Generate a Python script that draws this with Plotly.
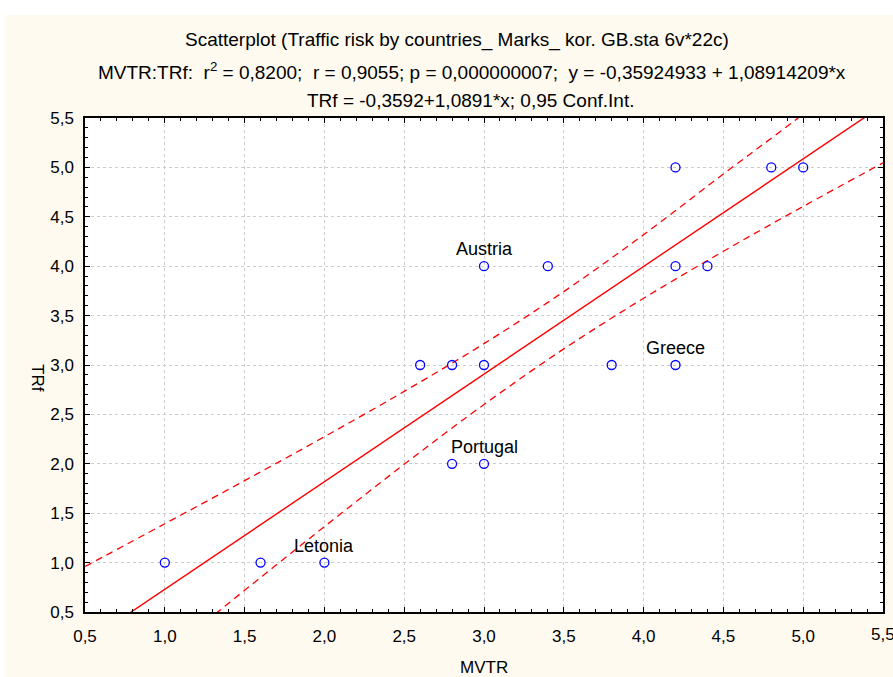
import plotly.graph_objects as go

# ---- data ----
mvtr = [1.0, 1.6, 2.0, 2.6, 2.8, 3.0, 2.8, 3.0, 3.0, 3.4, 3.8, 4.2, 4.2, 4.4, 4.2, 4.8, 5.0]
trf  = [1.0, 1.0, 1.0, 3.0, 3.0, 3.0, 2.0, 2.0, 4.0, 4.0, 3.0, 3.0, 4.0, 4.0, 5.0, 5.0, 5.0]

intercept = -0.35924933
slope = 1.08914209
line_x = [0.5, 5.5]

band_x     = [0.5, 1.0, 1.5, 2.0, 2.5, 3.0, 3.5, 4.0, 4.5, 5.0, 5.5]
band_upper = [0.960, 1.393, 1.829, 2.274, 2.733, 3.216, 3.743, 4.319, 4.933, 5.540, 6.180]
band_lower = [-0.590, 0.067, 0.719, 1.364, 1.995, 2.600, 3.163, 3.675, 4.151, 4.605, 5.046]

label_text = ["Austria", "Portugal", "Greece", "Letonia"]
label_x    = [3.0, 3.0, 4.2, 2.0]
label_y    = [4.0, 2.0, 3.0, 1.0]

tick_vals = [0.5, 1.0, 1.5, 2.0, 2.5, 3.0, 3.5, 4.0, 4.5, 5.0, 5.5]

title1 = "Scatterplot (Traffic risk by countries_ Marks_ kor. GB.sta 6v*22c)"
title2 = ("MVTR:TRf:\u00a0 r<sup>2</sup> = 0,8200;\u00a0 r = 0,9055; p = 0,000000007;"
          "\u00a0 y = -0,35924933 + 1,08914209*x")
title3 = "TRf = -0,3592+1,0891*x; 0,95 Conf.Int."

FONT = "Arial, Liberation Sans, sans-serif"
RED = "#ff0000"
BLUE = "#0000ff"

W, H = 893, 677
L, R, T, B = 85, 10, 118, 65
PW, PH = W - L - R, H - T - B

def px(xpix):
    return (xpix - L) / PW

def py(ypix):
    return (H - B - ypix) / PH

fig = go.Figure()

fig.add_trace(go.Scatter(
    x=band_x, y=band_upper, mode="lines", line_shape="spline",
    line=dict(color=RED, width=1.3, dash="7px,5px"), hoverinfo="skip"))
fig.add_trace(go.Scatter(
    x=band_x, y=band_lower, mode="lines", line_shape="spline",
    line=dict(color=RED, width=1.3, dash="7px,5px"), hoverinfo="skip"))
fig.add_trace(go.Scatter(
    x=line_x, y=[intercept + slope * v for v in line_x], mode="lines",
    line=dict(color=RED, width=1.4), hoverinfo="skip"))
fig.add_trace(go.Scatter(
    x=mvtr, y=trf, mode="markers",
    marker=dict(symbol="circle-open", size=9, color=BLUE, line=dict(width=1.3, color=BLUE))))

axis_common = dict(
    range=[0.5, 5.5], tickvals=tick_vals, tickformat=".1f",
    showline=True, linecolor="black", linewidth=1.5, mirror="allticks",
    ticks="inside", ticklen=5, tickwidth=1, tickcolor="black",
    showgrid=True, gridcolor="#cccccc", griddash="dot", gridwidth=1,
    zeroline=False, tickfont=dict(family=FONT, size=17, color="black"),
    minor=dict(ticks="inside", dtick=0.1, ticklen=3, tickcolor="black", showgrid=False),
    automargin=False,
)

fig.update_xaxes(**axis_common, ticklabelstandoff=8)
fig.update_yaxes(**axis_common, ticklabelstandoff=6)

annotations = []
for t, x, y in zip(label_text, label_x, label_y):
    annotations.append(dict(x=x, y=y, xref="x", yref="y", text=t, showarrow=False,
                            yshift=17, font=dict(family=FONT, size=18, color="black")))

for txt, ypix, xc in [(title1, 40, 457), (title2, 71, 472), (title3, 100, 470)]:
    annotations.append(dict(x=px(xc), y=py(ypix), xref="paper", yref="paper", text=txt,
                            showarrow=False, xanchor="center", yanchor="middle",
                            font=dict(family=FONT, size=19, color="black")))

# last x tick label, partly cut by the right edge as in the reference
annotations.append(dict(x=tick_vals[-1], y=py(634), xref="x", yref="paper",
                        text=f"{tick_vals[-1]:.1f}".replace(".", ","), showarrow=False,
                        xanchor="center", yanchor="middle",
                        font=dict(family=FONT, size=17, color="black")))

annotations.append(dict(x=px(484), y=py(667), xref="paper", yref="paper", text="MVTR",
                        showarrow=False, xanchor="center", yanchor="middle",
                        font=dict(family=FONT, size=17, color="black")))
annotations.append(dict(x=px(38), y=py(378), xref="paper", yref="paper", text="TRf",
                        showarrow=False, xanchor="center", yanchor="middle", textangle=90,
                        font=dict(family=FONT, size=17, color="black")))

shapes = [
    dict(type="rect", xref="paper", yref="paper", x0=px(5), x1=px(W), y0=py(H), y1=py(15),
         fillcolor="#fefaf0", line=dict(width=0), layer="below"),
    dict(type="rect", xref="x", yref="y", x0=0.5, x1=5.5, y0=0.5, y1=5.5,
         fillcolor="white", line=dict(width=0), layer="below"),
]

fig.update_layout(
    width=W, height=H, margin=dict(l=L, r=R, t=T, b=B, autoexpand=False),
    paper_bgcolor="white", plot_bgcolor="white",
    showlegend=False, separators=",.",
    annotations=annotations, shapes=shapes,
    font=dict(family=FONT, size=17, color="black"),
)

fig.write_html(
    "out.html",
    config={"displayModeBar": False},
    post_script="document.body.style.margin='0';document.body.style.overflow='hidden';",
)
